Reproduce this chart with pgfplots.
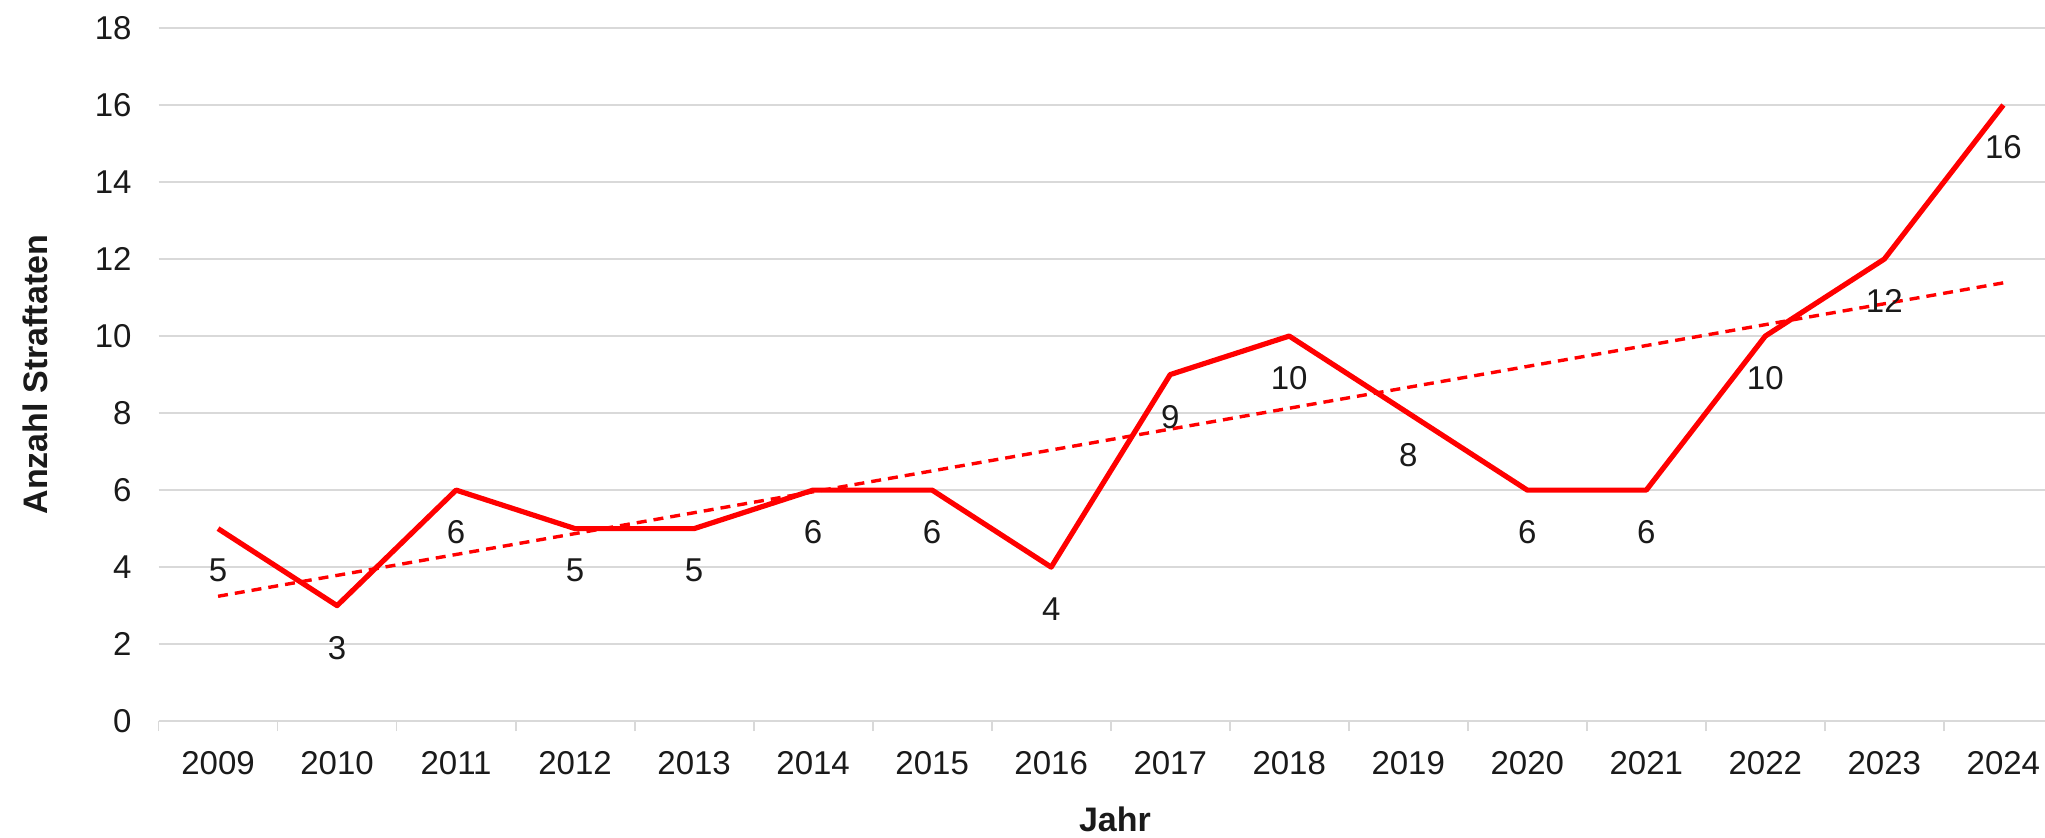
\documentclass[border=0pt]{standalone}
\usepackage{pgfplots}
\pgfplotsset{compat=1.18}
\usepackage{fontspec}
\setmainfont{Liberation Sans}
\definecolor{gridgray}{HTML}{D9D9D9}
\definecolor{txt}{HTML}{1A1A1A}
\begin{document}
\begin{tikzpicture}
\begin{axis}[
  scale only axis,
  width=943pt, height=346.5pt,
  xmin=-0.5, xmax=15.35,
  ymin=0, ymax=18,
  ytick={0,2,...,18},
  xtick={0,...,15},
  xticklabels={2009,2010,2011,2012,2013,2014,2015,2016,2017,2018,2019,2020,2021,2022,2023,2024},
  minor xtick={-0.5,0.5,...,14.5},
  axis x line*=bottom,
  axis y line*=left,
  x axis line style={draw=gridgray, line width=0.9pt, -},
  y axis line style={draw=none},
  ymajorgrids,
  grid style={gridgray, line width=0.9pt},
  major x tick style={draw=none},
  minor x tick style={draw=gridgray, line width=0.9pt},
  minor tick length=5pt,
  ytick style={draw=none},
  tick align=outside,
  /pgf/number format/assume math mode=true,
  font=\fontsize{16.5}{19}\selectfont,
  tick label style={font=\fontsize{16.5}{19}\selectfont, text=txt},
  yticklabel style={xshift=-5.7pt},
  xticklabel style={yshift=-7.5pt},
  xlabel={\textbf{Jahr}},
  ylabel={\textbf{Anzahl Straftaten}},
  xlabel style={at={(axis description cs:0.507,0)}, anchor=center, yshift=-49pt, font=\fontsize{17}{20}\selectfont, text=txt},
  ylabel style={at={(axis description cs:0,0.5)}, anchor=center, yshift=61.75pt, font=\fontsize{17}{20}\selectfont, text=txt},
  clip=false,
]
\addplot[red, line width=2.6pt, line join=round,
  nodes near coords,
  every node near coord/.append style={anchor=north, inner sep=0pt, yshift=-14pt, font=\fontsize{16.5}{19}\selectfont, text=txt},
] coordinates {
  (0,5) (1,3) (2,6) (3,5) (4,5) (5,6) (6,6) (7,4)
  (8,9) (9,10) (10,8) (11,6) (12,6) (13,10) (14,12) (15,16)
};
\addplot[red, line width=1.7pt, dash pattern=on 5pt off 3.5pt] coordinates {
  (0,3.243) (15,11.382)
};
\end{axis}
\pgfresetboundingbox
\useasboundingbox ([xshift=-79.25pt, yshift=-58pt]current axis.south west) rectangle ([yshift=14pt]current axis.north east);
\end{tikzpicture}
\end{document}
